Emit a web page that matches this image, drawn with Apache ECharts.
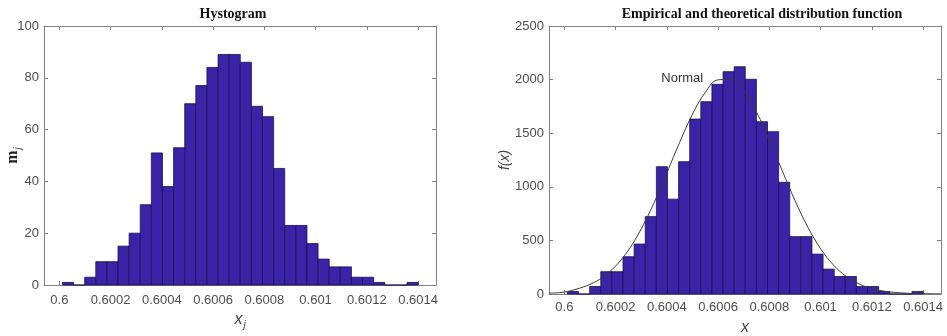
<!DOCTYPE html>
<html>
<head>
<meta charset="utf-8">
<script src="https://cdn.jsdelivr.net/npm/echarts@6/dist/echarts.min.js"></script>
<style>
html,body{margin:0;padding:0;background:#fff;}
#main{width:947px;height:336px;}
</style>
</head>
<body>
<div id="main"></div>
<script>
// ---- data ----
const binStart = 0.600012;
const binWidth = 0.00004338;
const histCounts = [1,0,3,9,9,15,20,31,51,38,53,70,77,84,89,89,86,69,65,45,23,23,16,10,7,7,3,3,1,0,0,1];
const densityValues = [23,0,70,208,208,348,466,722,1188,885,1234,1632,1794,1956,2074,2120,2003,1607,1514,1042,535,535,372,232,163,163,70,70,23,0,0,23];
const normalX = [0.59994,0.6,0.60005,0.6001,0.60015,0.6002,0.60025,0.6003,0.60035,0.6004,0.60045,0.6005,0.60055,0.6006,0.60065,0.6007,0.60075,0.6008,0.60085,0.6009,0.60095,0.601,0.60105,0.6011,0.60115,0.6012,0.60125,0.6013,0.60135,0.6014,0.60147];
const normalY = [8,18,48,90,157,261,409,607,851,1129,1415,1678,1881,1998,2002,1894,1697,1438,1152,872,625,423,271,164,94,51,26,13,6,3,1];
const xTicks = [0.6,0.6002,0.6004,0.6006,0.6008,0.601,0.6012,0.6014];
const xMin = 0.59994, xMax = 0.60147;

const barColor = '#3a23a6';
const edgeColor = '#1b1250';
const axisColor = '#808080';
const labelColor = '#4d4d4d';

function histData(vals){
  return vals.map((v,i)=>[binStart+i*binWidth, binStart+(i+1)*binWidth, v]);
}
function renderBar(params, api){
  const p0 = api.coord([api.value(0), api.value(2)]);
  const p1 = api.coord([api.value(1), 0]);
  return {type:'rect', shape:{x:p0[0], y:p0[1], width:p1[0]-p0[0], height:p1[1]-p0[1]},
    style:{fill:barColor, stroke:edgeColor, lineWidth:0.8}};
}
const fmt = v => String(parseFloat(v.toFixed(5)));

function xAx(grid, pos, showLabel, margin, name, nameRich, nameGap){
  return {type:'value', gridIndex:grid, position:pos, min:xMin, max:xMax,
    axisLine:{show:true, onZero:false, lineStyle:{color:axisColor, width:1}},
    axisTick:{show:true, inside:true, length:4, customValues:xTicks, lineStyle:{color:axisColor}},
    axisLabel:{show:showLabel, customValues:xTicks, formatter:fmt, color:labelColor, fontSize:13, fontFamily:'Liberation Sans', margin:margin||7},
    splitLine:{show:false},
    name:name||'', nameLocation:'middle', nameGap:nameGap||30, nameMoveOverlap:false, nameTextStyle:{rich:nameRich||{}}
  };
}
function yAx(grid, pos, max, interval, showLabel, name, nameRich, nameGap){
  return {type:'value', gridIndex:grid, position:pos, min:0, max:max, interval:interval,
    axisLine:{show:true, onZero:false, lineStyle:{color:axisColor, width:1}},
    axisTick:{show:true, inside:true, length:4, lineStyle:{color:axisColor}},
    axisLabel:{show:showLabel, formatter:v=>String(v), color:labelColor, fontSize:13, fontFamily:'Liberation Sans', margin:5},
    splitLine:{show:false},
    name:name||'', nameLocation:'middle', nameGap:nameGap||30, nameMoveOverlap:false, nameTextStyle:{rich:nameRich||{}}
  };
}

const chart = echarts.init(document.getElementById('main'), null, {renderer:'canvas'});
chart.setOption({
  animation:false,
  backgroundColor:'#fff',
  title:[
    {text:'Hystogram', left:228, top:2, textAlign:'center',
      textStyle:{fontFamily:'Liberation Serif', fontWeight:'bold', fontSize:14, color:'#111'}},
    {text:'Empirical and theoretical distribution function', left:757, top:2, textAlign:'center',
      textStyle:{fontFamily:'Liberation Serif', fontWeight:'bold', fontSize:14, color:'#111'}}
  ],
  grid:[
    {left:44, top:26, width:392, height:259, outerBoundsMode:'none', containLabel:false},
    {left:549, top:26, width:392, height:268, outerBoundsMode:'none', containLabel:false}
  ],
  xAxis:[
    xAx(0,'bottom',true,9,'{x|x}{j|j}',{
      x:{fontFamily:'Liberation Sans', fontStyle:'italic', fontSize:16, color:'#444', lineHeight:20},
      j:{fontFamily:'Liberation Sans', fontStyle:'italic', fontSize:10, color:'#444', lineHeight:20, verticalAlign:'bottom', padding:[10,0,0,1]}
    },25),
    xAx(0,'top',false),
    xAx(1,'bottom',true,7,'{x|x}',{
      x:{fontFamily:'Liberation Sans', fontStyle:'italic', fontSize:16, color:'#444'}
    },26),
    xAx(1,'top',false)
  ],
  yAxis:[
    yAx(0,'left',100,20,true,'{m|m}{j|j}',{
      m:{fontFamily:'Liberation Serif', fontWeight:'bold', fontSize:16, color:'#222', lineHeight:20},
      j:{fontFamily:'Liberation Sans', fontStyle:'italic', fontSize:10, color:'#444', lineHeight:20, verticalAlign:'bottom', padding:[10,0,0,1]}
    },21),
    yAx(0,'right',100,20,false),
    yAx(1,'left',2500,500,true,'{f|f(x)}',{
      f:{fontFamily:'Liberation Sans', fontStyle:'italic', fontSize:14, color:'#444'}
    },37),
    yAx(1,'right',2500,500,false)
  ],
  series:[
    {type:'custom', xAxisIndex:0, yAxisIndex:0, renderItem:renderBar, data:histData(histCounts), encode:{x:[0,1], y:2}, z:2},
    {type:'custom', xAxisIndex:2, yAxisIndex:2, renderItem:renderBar, data:histData(densityValues), encode:{x:[0,1], y:2}, z:2},
    {type:'line', xAxisIndex:2, yAxisIndex:2, smooth:0.4, showSymbol:false, symbol:'none', z:3,
      lineStyle:{color:'#3a3a3a', width:1},
      data:normalX.map((x,i)=>[x, normalY[i]]),
      markPoint:{symbol:'rect', symbolSize:1, itemStyle:{color:'rgba(0,0,0,0)'},
        label:{show:true, position:'inside', formatter:'Normal', color:'#333', fontSize:13, fontFamily:'Liberation Sans'},
        data:[{coord:[0.60046, 2015]}]}
    }
  ]
});
</script>
</body>
</html>
